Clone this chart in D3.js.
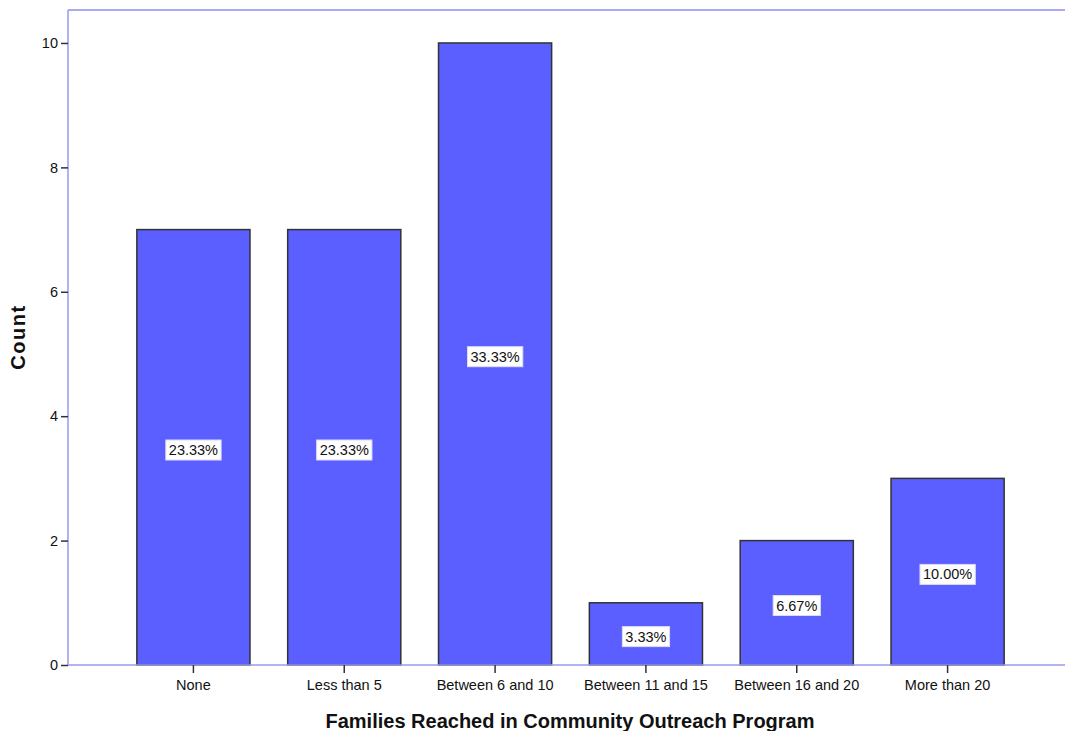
<!DOCTYPE html>
<html><head><meta charset="utf-8">
<script src="https://cdn.jsdelivr.net/npm/d3@7"></script>
<style>body{margin:0;background:#fff}svg{display:block}</style>
</head><body>
<svg id="c" width="1065" height="731"></svg>
<script>
const categories = ["None","Less than 5","Between 6 and 10","Between 11 and 15","Between 16 and 20","More than 20"];
const counts = [7, 7, 10, 1, 2, 3];
const percentLabels = ["23.33%","23.33%","33.33%","3.33%","6.67%","10.00%"];
const yTicks = [0, 2, 4, 6, 8, 10];
const xTitle = "Families Reached in Community Outreach Program";
const yTitle = "Count";

(function(){
const svg = d3.select("#c");
const font = "'Liberation Sans', Arial, sans-serif";
const pL = 68, pR = 1065, pT = 10, pB = 665;

const x = d3.scaleBand().domain(categories).range([118, 1023]).paddingInner(0.25).paddingOuter(0.125);
const y = d3.scaleLinear().domain([0, 10.53]).range([pB, pT]);

// frame lines
svg.append("line").attr("x1", pL).attr("x2", pR).attr("y1", pT).attr("y2", pT)
  .attr("stroke", "#a9a9f5").attr("stroke-width", 2);
svg.append("line").attr("x1", pL).attr("x2", pL).attr("y1", pT).attr("y2", pB)
  .attr("stroke", "#9a9aee").attr("stroke-width", 1.5);

// bars
svg.append("g").selectAll("rect").data(counts).join("rect")
  .attr("x", (d,i) => x(categories[i]))
  .attr("y", d => y(d))
  .attr("width", x.bandwidth())
  .attr("height", d => pB - y(d))
  .attr("fill", "#5b5fff")
  .attr("stroke", "#333")
  .attr("stroke-width", 1.5);

// x axis baseline
svg.append("line").attr("x1", pL).attr("x2", pR).attr("y1", pB).attr("y2", pB)
  .attr("stroke", "#9a9aee").attr("stroke-width", 1.5);

// y axis
const yAxis = d3.axisLeft(y).tickValues(yTicks).tickSize(7).tickPadding(3).tickFormat(d3.format("d"));
const yg = svg.append("g").attr("transform", `translate(${pL},0)`).call(yAxis);
yg.select(".domain").remove();
yg.selectAll(".tick line").attr("stroke", "#333").attr("stroke-width", 1.5);
yg.selectAll(".tick text").attr("font-family", font).attr("font-size", 14.5).attr("fill", "#111");

// x axis
const xAxis = d3.axisBottom(x).tickSize(8).tickPadding(7);
const xg = svg.append("g").attr("transform", `translate(0,${pB})`).call(xAxis);
xg.select(".domain").remove();
xg.selectAll(".tick line").attr("stroke", "#333").attr("stroke-width", 1.5);
xg.selectAll(".tick text").attr("font-family", font).attr("font-size", 14.5).attr("fill", "#111");

// percent labels
const lg = svg.append("g").selectAll("g").data(counts).join("g")
  .attr("transform", (d,i) => `translate(${x(categories[i]) + x.bandwidth()/2},${y(d/2) + 2.5})`);
lg.each(function(d,i){
  const g = d3.select(this);
  const t = g.append("text").text(percentLabels[i])
    .attr("font-family", font).attr("font-size", 14.5).attr("fill", "#111")
    .attr("text-anchor", "middle").attr("dy", "0.36em");
  const bb = t.node().getBBox();
  g.insert("rect", "text")
    .attr("x", bb.x - 3).attr("y", bb.y - 2)
    .attr("width", bb.width + 6).attr("height", bb.height + 4)
    .attr("fill", "#fff").attr("stroke", "#dcdcf5").attr("stroke-width", 1);
});

// titles
svg.append("text").attr("x", 570).attr("y", 728).attr("text-anchor", "middle")
  .attr("font-family", font).attr("font-weight", "bold").attr("font-size", 20).attr("fill", "#111")
  .text(xTitle);
svg.append("text").attr("transform", "translate(25,337) rotate(-90)").attr("text-anchor", "middle")
  .attr("font-family", font).attr("font-weight", "bold").attr("font-size", 20)
  .attr("letter-spacing", 1.5).attr("fill", "#111")
  .text(yTitle);
})();
</script>
</body></html>
